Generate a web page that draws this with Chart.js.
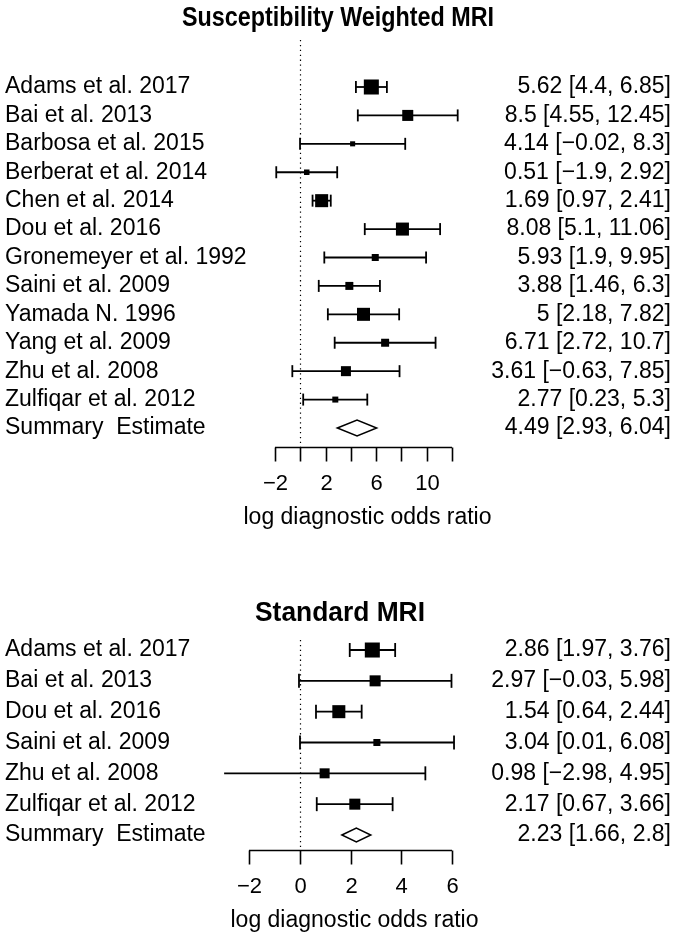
<!DOCTYPE html>
<html>
<head>
<meta charset="utf-8">
<script src="https://cdn.jsdelivr.net/npm/chart.js@4"></script>
<style>
  html, body { margin: 0; padding: 0; background: #ffffff; }
  canvas { display: block; }
</style>
</head>
<body>
<canvas id="c1" width="675" height="540"></canvas>
<canvas id="c2" width="675" height="396"></canvas>
<script>
// ---------- Data: Susceptibility Weighted MRI ----------
const swStudies = ["Adams et al. 2017", "Bai et al. 2013", "Barbosa et al. 2015", "Berberat et al. 2014",
  "Chen et al. 2014", "Dou et al. 2016", "Gronemeyer et al. 1992", "Saini et al. 2009",
  "Yamada N. 1996", "Yang et al. 2009", "Zhu et al. 2008", "Zulfiqar et al. 2012"];
const swEst = [5.62, 8.5, 4.14, 0.51, 1.69, 8.08, 5.93, 3.88, 5, 6.71, 3.61, 2.77];
const swLo  = [4.4, 4.55, -0.02, -1.9, 0.97, 5.1, 1.9, 1.46, 2.18, 2.72, -0.63, 0.23];
const swHi  = [6.85, 12.45, 8.3, 2.92, 2.41, 11.06, 9.95, 6.3, 7.82, 10.7, 7.85, 5.3];
const swWeight = [14.1, 7.6, 1.6, 1.9, 10.6, 10.6, 3.1, 4.0, 10.6, 4.0, 6.25, 2.25];
const swSummary = { est: 4.49, lo: 2.93, hi: 6.04 };
const swTicks = [-2, 0, 2, 4, 6, 8, 10, 12];
const swTickLabels = ["\u22122", "", "2", "", "6", "", "10", ""];

// ---------- Data: Standard MRI ----------
const stStudies = ["Adams et al. 2017", "Bai et al. 2013", "Dou et al. 2016", "Saini et al. 2009",
  "Zhu et al. 2008", "Zulfiqar et al. 2012"];
const stEst = [2.86, 2.97, 1.54, 3.04, 0.98, 2.17];
const stLo  = [1.97, -0.03, 0.64, 0.01, -2.98, 0.67];
const stHi  = [3.76, 5.98, 2.44, 6.08, 4.95, 3.66];
const stWeight = [14.1, 7.6, 10.6, 3.1, 6.25, 7.6];
const stSummary = { est: 2.23, lo: 1.66, hi: 2.8 };
const stTicks = [-2, 0, 2, 4, 6];
const stTickLabels = ["\u22122", "0", "2", "4", "6"];

const FONT = '"Liberation Sans", Arial, Helvetica, sans-serif';

function fmt(v) {
  return String(v).replace('-', '\u2212');
}
function ciText(e, l, h) {
  return fmt(e) + ' [' + fmt(l) + ', ' + fmt(h) + ']';
}

function buildChart(canvasId, cfg) {
  const n = cfg.studies.length;
  const datasets = [];
  // squares
  datasets.push({
    type: 'scatter',
    order: 0,
    data: cfg.est.map((e, i) => ({ x: e, y: i })),
    pointStyle: 'rect',
    pointRadius: cfg.weight.map(w => 4 * Math.sqrt(w) / Math.SQRT2),
    backgroundColor: '#000',
    borderColor: '#000',
    borderWidth: 0,
    clip: false
  });
  // whiskers with end caps
  for (let i = 0; i < n; i++) {
    datasets.push({
      type: 'line',
      order: 1,
      data: [{ x: cfg.lo[i], y: i }, { x: cfg.hi[i], y: i }],
      borderColor: '#000',
      borderWidth: 1.8,
      pointStyle: 'line',
      rotation: 90,
      pointRadius: cfg.capR,
      pointBorderWidth: 1.8,
      pointBorderColor: '#000',
      showLine: true,
      fill: false,
      clip: false
    });
  }

  const forestPlugin = {
    id: 'forest',
    afterDraw(chart) {
      const ctx = chart.ctx;
      const xs = chart.scales.x, ys = chart.scales.y;
      const area = chart.chartArea;
      ctx.save();
      // title
      ctx.fillStyle = '#000';
      ctx.font = 'bold 27px ' + FONT;
      ctx.textAlign = 'center';
      ctx.textBaseline = 'middle';
      ctx.fillText(cfg.title, cfg.titleX, cfg.titleY, cfg.titleW);

      // dotted zero line
      ctx.strokeStyle = '#000';
      ctx.lineWidth = 1.2;
      ctx.setLineDash([1.3, 3.6]);
      const x0 = Math.round(xs.getPixelForValue(0)) + 0.5;
      ctx.beginPath();
      ctx.moveTo(x0, area.top);
      ctx.lineTo(x0, area.bottom);
      ctx.stroke();
      ctx.setLineDash([]);

      // study labels
      ctx.font = '23px ' + FONT;
      ctx.textBaseline = 'middle';
      for (let i = 0; i < n; i++) {
        const y = ys.getPixelForValue(i);
        ctx.textAlign = 'left';
        ctx.fillText(cfg.studies[i], 5, y);
        ctx.textAlign = 'right';
        ctx.fillText(ciText(cfg.est[i], cfg.lo[i], cfg.hi[i]), 671, y);
      }
      // summary row
      const ysum = ys.getPixelForValue(n);
      ctx.textAlign = 'left';
      ctx.fillText('Summary  Estimate', 5, ysum);
      ctx.textAlign = 'right';
      ctx.fillText(ciText(cfg.summary.est, cfg.summary.lo, cfg.summary.hi), 671, ysum);

      // diamond
      ctx.lineWidth = 1.5;
      ctx.strokeStyle = '#000';
      ctx.beginPath();
      ctx.moveTo(xs.getPixelForValue(cfg.summary.lo), ysum);
      ctx.lineTo(xs.getPixelForValue(cfg.summary.est), ysum - cfg.diamondH);
      ctx.lineTo(xs.getPixelForValue(cfg.summary.hi), ysum);
      ctx.lineTo(xs.getPixelForValue(cfg.summary.est), ysum + cfg.diamondH);
      ctx.closePath();
      ctx.stroke();

      // x axis
      const ay = Math.round(area.bottom) + 0.5;
      ctx.lineWidth = 1.6;
      ctx.beginPath();
      ctx.moveTo(xs.getPixelForValue(cfg.ticks[0]), ay);
      ctx.lineTo(xs.getPixelForValue(cfg.ticks[cfg.ticks.length - 1]), ay);
      ctx.stroke();
      ctx.font = '22px ' + FONT;
      ctx.textAlign = 'center';
      cfg.ticks.forEach((t, k) => {
        const px = Math.round(xs.getPixelForValue(t)) + 0.5;
        ctx.beginPath();
        ctx.moveTo(px, ay);
        ctx.lineTo(px, ay + 14);
        ctx.stroke();
        if (cfg.tickLabels[k]) ctx.fillText(cfg.tickLabels[k], px, ay + 36);
      });
      ctx.font = '23px ' + FONT;
      ctx.fillText('log diagnostic odds ratio', (area.left + area.right) / 2 + 4, ay + 70);
      ctx.restore();
    }
  };

  return new Chart(document.getElementById(canvasId), {
    type: 'scatter',
    data: { datasets },
    options: {
      responsive: false,
      animation: false,
      events: [],
      layout: { padding: cfg.padding },
      plugins: { legend: { display: false }, tooltip: { enabled: false }, title: { display: false } },
      scales: {
        x: { type: 'linear', display: false, min: cfg.ticks[0], max: cfg.ticks[cfg.ticks.length - 1] },
        y: { type: 'linear', display: false, reverse: true, min: cfg.yMin, max: cfg.yMax }
      }
    },
    plugins: [forestPlugin]
  });
}

buildChart('c1', {
  title: 'Susceptibility Weighted MRI', titleX: 338, titleY: 19, titleW: 312,
  studies: swStudies, est: swEst, lo: swLo, hi: swHi, weight: swWeight,
  summary: swSummary, ticks: swTicks, tickLabels: swTickLabels,
  padding: { left: 275, right: 223, top: 40, bottom: 93 },
  yMin: -1.654, yMax: 12.669, capR: 6, diamondH: 8
});

buildChart('c2', {
  title: 'Standard MRI', titleX: 340, titleY: 74, titleW: 170,
  studies: stStudies, est: stEst, lo: stLo, hi: stHi, weight: stWeight,
  summary: stSummary, ticks: stTicks, tickLabels: stTickLabels,
  padding: { left: 249, right: 223, top: 100, bottom: 86 },
  yMin: -0.325, yMax: 6.487, capR: 7, diamondH: 7
});
</script>
</body>
</html>
